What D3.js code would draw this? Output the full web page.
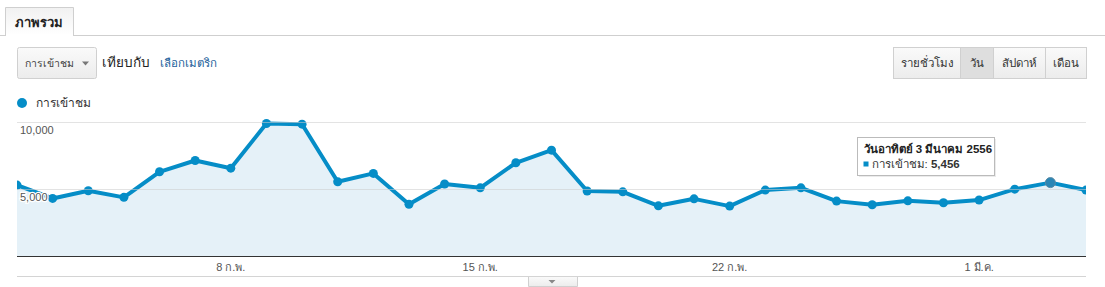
<!DOCTYPE html>
<html>
<head>
<meta charset="utf-8">
<script src="https://cdn.jsdelivr.net/npm/d3@7"></script>
<style>
  body { margin: 0; background: #fff; font-family: Tahoma, Arial, sans-serif; }
  svg { display: block; }
</style>
</head>
<body>
<svg width="1105" height="287"></svg>
<script>
// daily visits, 2 Feb - 4 Mar 2013
const days = ['2013-02-02','2013-02-03','2013-02-04','2013-02-05','2013-02-06','2013-02-07','2013-02-08',
  '2013-02-09','2013-02-10','2013-02-11','2013-02-12','2013-02-13','2013-02-14','2013-02-15',
  '2013-02-16','2013-02-17','2013-02-18','2013-02-19','2013-02-20','2013-02-21','2013-02-22',
  '2013-02-23','2013-02-24','2013-02-25','2013-02-26','2013-02-27','2013-02-28','2013-03-01',
  '2013-03-02','2013-03-03','2013-03-04'];
const visits = [5270, 4280, 4850, 4360, 6260, 7100, 6530, 9850, 9800, 5520, 6140, 3840, 5350, 5070,
  6930, 7870, 4830, 4770, 3730, 4250, 3710, 4900, 5070, 4080, 3810, 4100, 3960, 4160, 4970, 5456, 4900];
const tickDays = ['2013-02-08', '2013-02-15', '2013-02-22', '2013-03-01'];
const tickLabels = ['8 ก.พ.', '15 ก.พ.', '22 ก.พ.', '1 มี.ค.'];
const yTicks = [5000, 10000];
const periods = ['รายชั่วโมง', 'วัน', 'สัปดาห์', 'เดือน'];
const hoverIndex = 29;

const parse = d3.timeParse('%Y-%m-%d');
const data = days.map((d, i) => ({ date: parse(d), value: visits[i] }));

let svg = d3.select('svg');
const blue = '#058dc7';

// tab + header
const defs = svg.append('defs');
const grad = defs.append('linearGradient').attr('id', 'tabg').attr('x1', 0).attr('x2', 0).attr('y1', 0).attr('y2', 1);
grad.append('stop').attr('offset', '0%').attr('stop-color', '#f1f1f1');
grad.append('stop').attr('offset', '100%').attr('stop-color', '#ffffff');
const bgrad = defs.append('linearGradient').attr('id', 'btng').attr('x1', 0).attr('x2', 0).attr('y1', 0).attr('y2', 1);
bgrad.append('stop').attr('offset', '0%').attr('stop-color', '#fafafa');
bgrad.append('stop').attr('offset', '100%').attr('stop-color', '#ececec');

svg.append('line').attr('x1', 0).attr('x2', 1105).attr('y1', 35.5).attr('y2', 35.5).attr('stroke', '#cfcfcf');
svg.append('path').attr('d', 'M5.5,36 V7.5 H73.5 V36').attr('fill', 'url(#tabg)').attr('stroke', '#cfcfcf');
svg.append('rect').attr('x', 6).attr('y', 34).attr('width', 67).attr('height', 3).attr('fill', '#fff');
svg.append('text').attr('x', 15).attr('y', 27).text('ภาพรวม')
  .attr('font-size', 13).attr('font-weight', 'bold').attr('fill', '#222');

// metric dropdown
svg.append('rect').attr('x', 17.5).attr('y', 47.5).attr('width', 79).attr('height', 31).attr('rx', 2)
  .attr('fill', 'url(#btng)').attr('stroke', '#d0d0d0');
svg.append('text').attr('x', 25).attr('y', 67).text('การเข้าชม').attr('font-size', 10.5).attr('fill', '#444');
svg.append('path').attr('d', 'M82,61.5 h7 l-3.5,4 z').attr('fill', '#777');
svg.append('text').attr('x', 102).attr('y', 67).text('เทียบกับ').attr('font-size', 13.5).attr('fill', '#222');
svg.append('text').attr('x', 160).attr('y', 67).text('เลือกเมตริก').attr('font-size', 11.5).attr('fill', '#1a5e9a');

// period buttons
const btnEdges = [893, 960, 993, 1045, 1086];
const btn = svg.append('g');
btn.selectAll('rect').data(periods).join('rect')
  .attr('x', (d, i) => btnEdges[i] + 0.5).attr('y', 47.5)
  .attr('width', (d, i) => btnEdges[i + 1] - btnEdges[i]).attr('height', 31)
  .attr('fill', (d, i) => i === 1 ? '#dedede' : 'url(#btng)')
  .attr('stroke', '#d0d0d0');
btn.selectAll('text').data(periods).join('text')
  .attr('x', (d, i) => (btnEdges[i] + btnEdges[i + 1]) / 2 + 0.5).attr('y', 67)
  .attr('text-anchor', 'middle').attr('font-size', 11.5).attr('fill', '#333')
  .text(d => d);

// legend
svg.append('circle').attr('cx', 22).attr('cy', 103).attr('r', 5).attr('fill', blue);
svg.append('text').attr('x', 36).attr('y', 107).text('การเข้าชม').attr('font-size', 12).attr('fill', '#333');

// scales
const x = d3.scaleTime().domain(d3.extent(data, d => d.date)).range([17, 1086]);
const y = d3.scaleLinear().domain([0, 10000]).range([256, 121.5]);

defs.append('clipPath').attr('id', 'plot').append('rect')
  .attr('x', 17).attr('y', 100).attr('width', 1069).attr('height', 160);

const plot = svg.append('g').attr('clip-path', 'url(#plot)');

plot.append('path').datum(data)
  .attr('fill', '#e5f1f8')
  .attr('d', d3.area().x(d => x(d.date)).y0(y(0)).y1(d => y(d.value)));

// grid
svg.append('g').selectAll('line').data(yTicks).join('line')
  .attr('x1', 17).attr('x2', 1086)
  .attr('y1', d => Math.round(y(d)) + 0.5).attr('y2', d => Math.round(y(d)) + 0.5)
  .attr('stroke', '#cccccc').attr('stroke-opacity', 0.55);

plot.append('path').datum(data)
  .attr('fill', 'none').attr('stroke', blue).attr('stroke-width', 4)
  .attr('stroke-linejoin', 'round')
  .attr('d', d3.line().x(d => x(d.date)).y(d => y(d.value)));

plot.selectAll('.pt').data(data).join('circle')
  .attr('class', 'pt')
  .attr('cx', d => x(d.date)).attr('cy', d => y(d.value))
  .attr('r', (d, i) => i === hoverIndex ? 5 : 4.5)
  .attr('fill', (d, i) => i === hoverIndex ? '#2b86b5' : blue)
  .attr('stroke', (d, i) => i === hoverIndex ? '#5a8aa5' : 'none');

// y labels
svg.append('g').selectAll('text').data(yTicks).join('text')
  .attr('x', 20).attr('y', d => y(d) + 12)
  .attr('font-size', 11).attr('fill', '#555')
  .attr('stroke', '#fff').attr('stroke-width', 2.5).attr('paint-order', 'stroke')
  .text(d3.format(','));

// x axis
svg.append('line').attr('x1', 17).attr('x2', 1086).attr('y1', 256.5).attr('y2', 256.5).attr('stroke', '#333');
svg.append('g').selectAll('text').data(tickDays).join('text')
  .attr('x', d => x(parse(d))).attr('y', 271)
  .attr('text-anchor', 'middle').attr('font-size', 11).attr('fill', '#555')
  .text((d, i) => tickLabels[i]);
svg.append('line').attr('x1', 17).attr('x2', 1086).attr('y1', 276.5).attr('y2', 276.5).attr('stroke', '#d4d4d4');

// collapse handle
svg.append('path').attr('d', 'M528.5,277 V286.5 H577.5 V277').attr('fill', 'url(#btng)').attr('stroke', '#d0d0d0');
svg.append('path').attr('d', 'M548.5,280 h7 l-3.5,3.5 z').attr('fill', '#888');

// tooltip
const tip = svg.append('g').attr('transform', 'translate(857.5,137.5)');
tip.append('rect').attr('x', 1.5).attr('y', 1.5).attr('width', 137).attr('height', 38).attr('fill', '#000').attr('opacity', 0.08);
tip.append('rect').attr('width', 137).attr('height', 38).attr('fill', '#fff').attr('stroke', '#bbb');
tip.append('text').attr('x', 6).attr('y', 15).attr('font-size', 11.5).attr('font-weight', 'bold').attr('fill', '#222')
  .text('วันอาทิตย์ 3 มีนาคม 2556');
tip.append('rect').attr('x', 6).attr('y', 24).attr('width', 5).attr('height', 5).attr('fill', blue);
const t2 = tip.append('text').attr('x', 14).attr('y', 30).attr('font-size', 11.5).attr('fill', '#333');
t2.append('tspan').text('การเข้าชม: ');
t2.append('tspan').attr('font-weight', 'bold').text(d3.format(',')(visits[hoverIndex]));
</script>
</body>
</html>
